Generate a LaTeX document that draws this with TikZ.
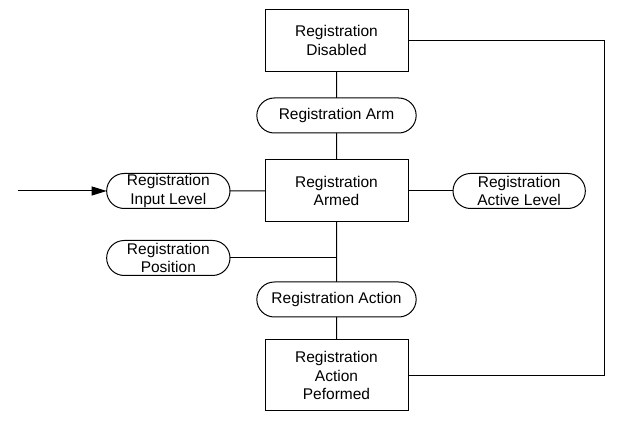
\documentclass[tikz,border=0pt]{standalone}
\usepackage{fontspec}
\setmainfont{Liberation Sans}
\usetikzlibrary{positioning, arrows.meta, shapes.misc}

\begin{document}
\begin{tikzpicture}[x=1pt, y=1pt,
    every node/.style={font=\fontsize{15.5}{18.3}\selectfont, outer sep=0pt},
    state/.style={rectangle, draw, line width=1pt, minimum width=143pt, minimum height=62pt, align=center},
    event/.style={rounded rectangle, draw, line width=1pt, minimum width=166pt, minimum height=35pt, inner ysep=1pt, align=center},
    link/.style={line width=1pt},
    arrow/.style={link, -{Triangle[length=15pt, width=9pt]}}]

  \useasboundingbox (0,0) rectangle (617,435);

  \node[state] (dis) at (336.5,394.5) {Registration\\Disabled};
  \node[event, below=26.5pt of dis] (arm) {Registration Arm};
  \node[state, below=27pt of arm] (armed) {Registration\\Armed};
  \node[event, minimum width=130pt, left=35pt of armed] (inlvl) {Registration\\Input Level};
  \node[event, minimum width=139pt, right=45pt of armed] (actlvl) {Registration\\Active Level};
  \node[event, minimum width=130pt, below=32pt of inlvl] (pos) {Registration\\Position};
  \node[event, below=60pt of armed] (act) {Registration Action};
  \node[state, minimum height=71pt, below=23pt of act] (done) {Registration\\Action\\Peformed};

  \coordinate[left=89pt of inlvl.west] (src);

  \draw[link] (dis) -- (arm) -- (armed) -- (act) -- (done);
  \draw[link] (inlvl) -- (armed);
  \draw[link] (armed) -- (actlvl);
  \draw[link] (pos.east) -- (pos.east -| armed.south);
  \draw[link] (dis.east) -- ++(196,0) |- (done.east);
  \draw[arrow] (src) -- (inlvl);
\end{tikzpicture}
\end{document}
